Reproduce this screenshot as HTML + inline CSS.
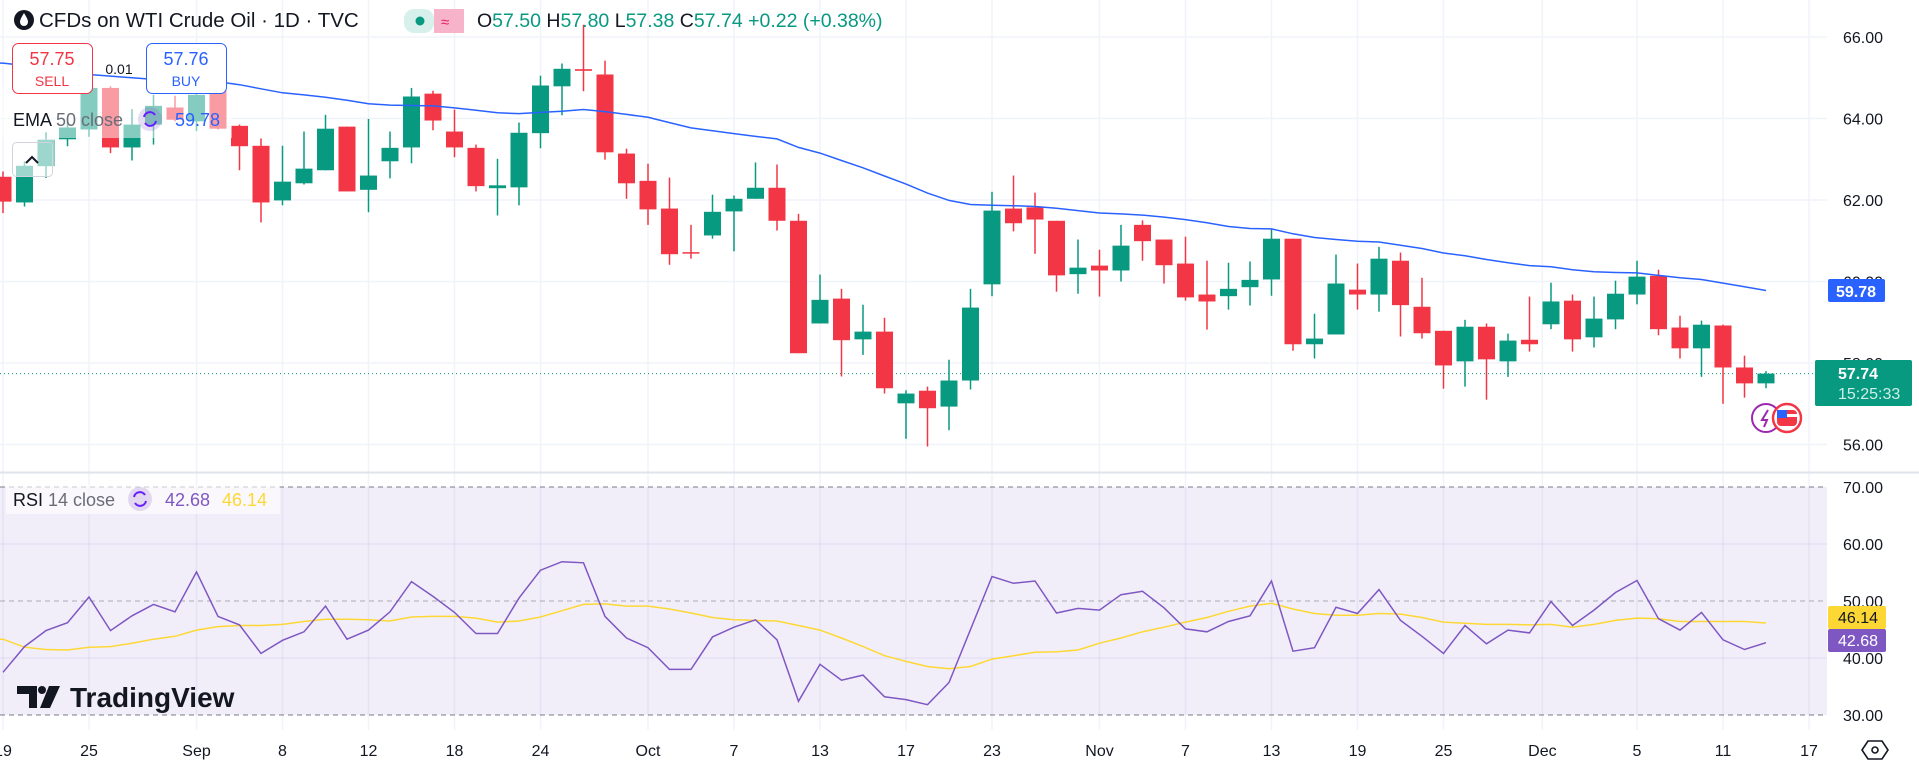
<!DOCTYPE html>
<html><head><meta charset="utf-8">
<style>
html,body{margin:0;padding:0;background:#fff;width:1919px;height:766px;overflow:hidden;font-family:"Liberation Sans",sans-serif;}
svg text{font-family:"Liberation Sans",sans-serif;}
</style></head>
<body>
<svg id="chart" width="1919" height="766" viewBox="0 0 1919 766" xmlns="http://www.w3.org/2000/svg">
  <rect x="0" y="0" width="1919" height="766" fill="#ffffff"/>
  <g id="vgrid"></g>
  <g id="hgrid"></g>
  <rect x="0" y="487" width="1827" height="228" fill="#7e57c2" fill-opacity="0.1"/>
  <line x1="0" y1="487" x2="1827" y2="487" stroke="#787b86" stroke-dasharray="5,4"/>
  <line x1="0" y1="601" x2="1827" y2="601" stroke="#787b86" stroke-opacity="0.6" stroke-dasharray="5,4"/>
  <line x1="0" y1="715" x2="1827" y2="715" stroke="#787b86" stroke-dasharray="5,4"/>
  <line x1="0" y1="472.5" x2="1919" y2="472.5" stroke="#e0e3eb" stroke-width="2"/>
  <line id="curline" x1="0" x2="1830" y1="373.6" y2="373.6" stroke="#089981" stroke-dasharray="1,3"/>
  <g id="candles"></g>
  <path id="ema" fill="none" stroke="#2962ff" stroke-width="1.5"/>
  <path id="rsima" fill="none" stroke="#fdd835" stroke-width="1.5"/>
  <path id="rsi" fill="none" stroke="#7e57c2" stroke-width="1.5"/>
  <rect x="0" y="86" width="232" height="52" fill="#ffffff" fill-opacity="0.5"/>
  <rect x="12" y="138" width="42" height="38" fill="#ffffff" fill-opacity="0.6"/>
  <g id="paxis"></g>
  <g id="raxis"></g>
  <g id="xaxis"></g>

  <!-- header -->
  <circle cx="24" cy="20" r="10" fill="#131722"/>
  <path d="M24 13 C21 18 20 20 20 22 a4 4 0 0 0 8 0 C28 20 27 18 24 13Z" fill="#fff"/>
  <text x="39" y="27" font-size="20.5" fill="#131722">CFDs on WTI Crude Oil · 1D · TVC</text>
  <rect x="404" y="9" width="30" height="24" rx="10" fill="#d7f0ec"/>
  <rect x="434" y="9" width="30" height="24" rx="0" fill="#f7b3c9"/>
  <circle cx="420" cy="21" r="4.5" fill="#089981"/>
  <text x="441" y="27" font-size="15" fill="#e91e63">≈</text>
  <text x="477" y="27" font-size="19.5" fill="#089981"><tspan fill="#131722">O</tspan>57.50 <tspan fill="#131722">H</tspan>57.80 <tspan fill="#131722">L</tspan>57.38 <tspan fill="#131722">C</tspan>57.74 +0.22 (+0.38%)</text>

  <!-- sell / buy -->
  <rect x="12.5" y="43.5" width="80" height="50" rx="6" fill="#fff" stroke="#f23645"/>
  <text x="52" y="65" font-size="18" text-anchor="middle" fill="#f23645">57.75</text>
  <text x="52" y="86" font-size="14" text-anchor="middle" fill="#f23645">SELL</text>
  <text x="119" y="74" font-size="14" text-anchor="middle" fill="#131722">0.01</text>
  <rect x="146.5" y="43.5" width="80" height="50" rx="6" fill="#fff" stroke="#2962ff"/>
  <text x="186" y="65" font-size="18" text-anchor="middle" fill="#2962ff">57.76</text>
  <text x="186" y="86" font-size="14" text-anchor="middle" fill="#2962ff">BUY</text>

  <text x="13" y="126" font-size="18" fill="#131722">EMA <tspan fill="#6a6d78">50 close</tspan></text>
  <circle cx="150" cy="119" r="12" fill="#7e57c2" fill-opacity="0.2"/>
  <path d="M144 117 a6 6 0 0 1 11 -2 M156 121 a6 6 0 0 1 -11 2" stroke="#651fff" stroke-width="2" fill="none"/>
  <text x="175" y="126" font-size="18" fill="#2962ff">59.78</text>
  <rect x="12.5" y="142.5" width="40" height="34" rx="4" fill="none" stroke="#d1d4dc"/>
  <path d="M26 163 l6 -6 l6 6" stroke="#131722" stroke-width="2" fill="none"/>

  <!-- rsi legend -->
  <rect x="6" y="486" width="274" height="28" fill="#ffffff" fill-opacity="0.6"/>
  <text x="13" y="506" font-size="18" fill="#131722">RSI <tspan fill="#6a6d78">14 close</tspan></text>
  <circle cx="140" cy="499" r="12" fill="#7e57c2" fill-opacity="0.2"/>
  <path d="M134 497 a6 6 0 0 1 11 -2 M146 501 a6 6 0 0 1 -11 2" stroke="#651fff" stroke-width="2" fill="none"/>
  <text x="165" y="506" font-size="18" fill="#7e57c2">42.68</text>
  <text x="222" y="506" font-size="18" fill="#fdd835">46.14</text>

  <!-- logo -->
  <g>
    <path d="M17 686 h20 v22 h-8 v-14 h-12z" fill="#131722"/>
    <circle cx="42" cy="690" r="4" fill="#131722"/>
    <path d="M49 686 h11 l-10 22 h-10z" fill="#131722"/>
    <text x="70" y="707" font-size="28" font-weight="bold" fill="#131722">TradingView</text>
  </g>

  <!-- event icons -->
  <circle cx="1766" cy="418" r="14" fill="#fff" stroke="#9c27b0" stroke-width="2"/>
  <path d="M1768 410 l-6 10 h5 l-3 7" stroke="#9c27b0" stroke-width="2" fill="none"/>
  <circle cx="1787" cy="418" r="14" fill="#fff" stroke="#f23645" stroke-width="2.5"/>
  <rect x="1777" y="410" width="20" height="16" rx="4" fill="#f23645"/>
  <rect x="1777" y="414" width="20" height="3" fill="#fff"/>
  <rect x="1777" y="410" width="10" height="8" fill="#2962ff"/>

  <!-- price labels -->
  <rect x="1828" y="279" width="57" height="23" rx="2" fill="#2962ff"/>
  <text x="1856" y="297" font-size="16" font-weight="bold" text-anchor="middle" fill="#fff">59.78</text>
  <rect x="1815" y="360" width="97" height="46" rx="2" fill="#089981"/>
  <text x="1838" y="379" font-size="16" font-weight="bold" fill="#fff">57.74</text>
  <text x="1838" y="399" font-size="16" fill="#cfeee8">15:25:33</text>
  <rect x="1828" y="606" width="58" height="23" rx="2" fill="#fdd835"/>
  <text x="1838" y="623" font-size="16" fill="#131722">46.14</text>
  <rect x="1828" y="629" width="58" height="23" rx="2" fill="#7e57c2"/>
  <text x="1838" y="646" font-size="16" fill="#fff">42.68</text>

  <g>
    <path d="M1862 750 l6 -9 h14 l6 9 l-6 9 h-14z" fill="none" stroke="#131722" stroke-width="1.6"/>
    <circle cx="1875" cy="750" r="3" fill="none" stroke="#131722" stroke-width="1.6"/>
  </g>
</svg>
<script>
const opens=[62.57,61.94,62.83,63.49,63.73,64.75,63.29,63.85,64.27,63.93,64.71,63.82,63.33,61.99,62.41,62.73,63.80,62.25,62.95,63.29,64.61,63.68,63.28,62.29,62.31,63.64,64.79,65.21,65.08,63.14,62.47,61.79,60.72,61.13,61.72,62.03,62.30,61.49,58.97,59.58,58.58,58.77,57.01,57.32,56.93,57.57,59.93,61.79,61.82,61.49,60.18,60.39,60.27,61.39,61.03,60.44,59.68,59.64,59.86,60.05,61.05,58.46,58.70,59.80,59.68,60.51,59.38,58.79,58.04,58.89,58.04,58.57,58.95,59.53,58.63,59.07,59.68,60.14,58.87,58.36,58.92,57.89,57.50];
const highs=[62.70,62.95,63.66,63.93,64.87,64.79,64.23,64.58,64.56,64.71,64.75,63.85,63.51,63.33,63.68,64.09,63.80,63.99,63.68,64.75,64.68,64.22,63.36,63.01,63.90,65.05,65.35,66.30,65.42,63.26,62.89,62.55,61.39,62.13,62.11,62.92,62.87,61.66,60.17,59.82,59.43,59.11,57.33,57.42,58.08,59.82,62.20,62.60,62.18,61.49,61.03,60.78,61.39,61.50,61.03,61.10,60.51,60.46,60.49,61.29,61.05,59.21,60.66,60.44,60.85,60.71,60.09,58.79,59.06,58.97,58.72,59.63,59.97,59.68,59.63,60.02,60.51,60.29,59.16,59.04,58.94,58.18,57.80];
const lows=[61.68,61.84,62.54,63.32,63.55,63.15,62.97,63.36,63.93,63.69,63.73,62.73,61.45,61.87,62.38,62.73,62.21,61.70,62.53,62.90,63.71,63.05,62.21,61.62,61.87,63.27,64.08,64.67,62.99,62.03,61.39,60.41,60.56,61.05,60.74,62.03,61.25,58.24,58.97,57.67,58.20,57.25,56.14,55.95,56.35,57.35,59.64,61.23,60.68,59.75,59.70,59.63,60.00,60.51,59.95,59.53,58.82,59.31,59.41,59.65,58.30,58.11,58.70,59.31,59.26,58.65,58.60,57.37,57.42,57.10,57.66,58.28,58.83,58.28,58.38,58.83,59.44,58.68,58.11,57.66,57.00,57.15,57.38];
const closes=[61.96,62.84,63.48,63.78,64.75,63.29,63.85,64.31,63.97,64.58,63.75,63.32,61.94,62.45,62.77,63.75,62.21,62.60,63.28,64.54,63.95,63.29,62.34,62.36,63.65,64.81,65.22,65.17,63.17,62.41,61.77,60.67,60.69,61.71,62.03,62.30,61.49,58.24,59.55,58.56,58.77,57.38,57.25,56.89,57.57,59.36,61.74,61.43,61.52,60.15,60.34,60.27,60.88,60.99,60.40,59.61,59.51,59.82,60.04,61.05,58.46,58.60,59.95,59.68,60.56,59.42,58.73,57.94,58.89,58.09,58.55,58.46,59.51,58.58,59.09,59.70,60.12,58.83,58.36,58.94,57.89,57.50,57.74];
const emaValues=[65.36,65.30,65.23,65.16,65.08,65.04,65.00,64.96,64.94,64.92,64.90,64.83,64.73,64.63,64.58,64.52,64.45,64.36,64.33,64.32,64.31,64.26,64.20,64.14,64.12,64.15,64.18,64.22,64.17,64.10,64.03,63.90,63.77,63.70,63.63,63.56,63.50,63.29,63.15,62.97,62.79,62.59,62.39,62.17,61.99,61.89,61.87,61.86,61.84,61.80,61.74,61.68,61.66,61.63,61.58,61.52,61.44,61.35,61.30,61.29,61.17,61.08,61.03,60.99,60.97,60.89,60.81,60.70,60.63,60.54,60.46,60.39,60.36,60.29,60.24,60.22,60.21,60.15,60.09,60.05,59.96,59.87,59.78];
const rsiValues=[37.5,42.0,44.8,46.2,50.7,44.8,47.4,49.4,48.1,55.1,47.3,45.8,40.8,43.1,44.6,49.1,43.3,44.9,48.1,53.4,50.8,48.0,44.3,44.3,50.5,55.4,56.9,56.7,47.3,43.5,41.8,38.0,38.0,43.7,45.4,46.7,43.2,32.4,38.9,36.1,37.0,33.2,32.7,31.8,35.7,45.0,54.3,53.1,53.5,47.9,48.7,48.4,51.1,51.7,48.8,45.1,44.6,46.4,47.4,53.5,41.2,41.8,48.9,47.8,52.0,46.6,43.8,40.8,45.7,42.5,44.9,44.4,49.9,45.7,48.4,51.5,53.6,46.9,44.9,48.0,43.2,41.5,42.68];
const rsiMaValues=[43.3,41.9,41.5,41.4,41.9,42.0,42.6,43.3,43.8,44.9,45.5,45.7,45.7,45.9,46.4,46.8,46.8,46.7,46.5,47.2,47.3,47.3,47.0,46.3,46.5,47.2,48.3,49.4,49.5,49.1,49.1,48.6,47.9,47.1,46.7,46.6,46.5,45.7,44.9,43.5,42.0,40.4,39.4,38.5,38.1,38.5,39.8,40.4,41.0,41.1,41.4,42.6,43.5,44.6,45.4,46.3,47.1,48.2,49.1,49.6,48.6,47.8,47.5,47.5,47.8,47.7,47.1,46.3,46.1,45.9,45.9,45.8,45.9,45.4,45.9,46.6,47.0,46.9,46.4,46.4,46.4,46.4,46.14];
const priceTicks=[66,64,62,60,58,56];
const rsiTicks=[70,60,50,40,30];
const dateLabels=["19","25","Sep","8","12","18","24","Oct","7","13","17","23","Nov","7","13","19","25","Dec","5","11","17"];
const dateIndex=[0,4,9,13,17,21,25,30,34,38,42,46,51,55,59,63,67,71.6,76,80,84];

const NS="http://www.w3.org/2000/svg";
const X0=3, STEP=21.5, PLOT_R=1827;
function xAt(i){return X0+STEP*i;}
function yP(p){return 37+(66-p)*40.75;}
function yR(v){return 487+(70-v)*5.7;}
function mk(tag,attrs,parent){const e=document.createElementNS(NS,tag);for(const k in attrs)e.setAttribute(k,attrs[k]);parent.appendChild(e);return e;}

const hg=document.getElementById('hgrid');
priceTicks.forEach(p=>{const l=mk('line',{x1:0,x2:PLOT_R,y1:yP(p),y2:yP(p),stroke:'#f0f3fa','stroke-width':1.5},hg);

});
[60,40].forEach(v=>{const l=mk('line',{x1:0,x2:PLOT_R,y1:yR(v),y2:yR(v),stroke:'#7e57c2','stroke-opacity':0.12},hg);

});

const vg=document.getElementById('vgrid');
const xa=document.getElementById('xaxis');
dateLabels.forEach((lab,k)=>{
  const x=xAt(dateIndex[k]);
  const l=mk('line',{x1:x,x2:x,y1:0,y2:730,stroke:'#f0f3fa','stroke-width':1.5},vg);
  
  
  const t=mk('text',{x:x,y:756,'font-size':16,'text-anchor':'middle',fill:'#131722'},xa);
  t.textContent=lab;
  
  
});

const pa=document.getElementById('paxis');
priceTicks.forEach(p=>{const t=mk('text',{x:1843,y:yP(p)+6,'font-size':16,fill:'#131722'},pa);t.textContent=p.toFixed(2);

});
const ra=document.getElementById('raxis');
rsiTicks.forEach(v=>{const t=mk('text',{x:1843,y:yR(v)+6,'font-size':16,fill:'#131722'},ra);t.textContent=v.toFixed(2);

});

const cg=document.getElementById('candles');
for(let i=0;i<closes.length;i++){
  const up=closes[i]>=opens[i];
  const col=up?'#089981':'#f23645';
  const x=xAt(i);
  const w=mk('line',{x1:x,x2:x,y1:yP(highs[i]),y2:yP(lows[i]),stroke:col,'stroke-width':1.5},cg);
  
  
  const top=yP(Math.max(opens[i],closes[i])), bot=yP(Math.min(opens[i],closes[i]));
  const b=mk('rect',{x:x-8.5,y:top,width:17,height:Math.max(1.5,bot-top),fill:col},cg);
  
  
}
function pathOf(arr,yf){return arr.map((v,i)=>(i?'L':'M')+xAt(i).toFixed(1)+' '+yf(v).toFixed(1)).join(' ');}
document.getElementById('ema').setAttribute('d','M0 '+yP(emaValues[0]).toFixed(1)+' '+pathOf(emaValues,yP).replace(/^M/,'L'));
document.getElementById('rsi').setAttribute('d',pathOf(rsiValues,yR));
document.getElementById('rsima').setAttribute('d','M0 '+yR(rsiMaValues[0]).toFixed(1)+' '+pathOf(rsiMaValues,yR).replace(/^M/,'L'));
const cl=document.getElementById('curline');
cl.setAttribute('y1',yP(closes[closes.length-1]));
cl.setAttribute('y2',yP(closes[closes.length-1]));
</script>
</body></html>
